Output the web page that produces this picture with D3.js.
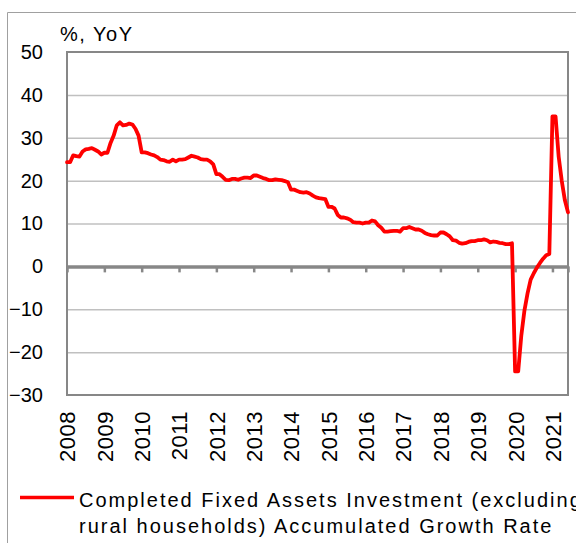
<!DOCTYPE html>
<html>
<head>
<meta charset="utf-8">
<script src="https://cdn.jsdelivr.net/npm/d3@7"></script>
<style>
  html, body { margin: 0; padding: 0; background: #fff; }
  svg { display: block; font-family: 'Liberation Sans', Arial, sans-serif; }
</style>
</head>
<body>
<div id="chart"></div>
<script>
// monthly accumulated YoY growth, Jan-Feb reported together (Jan repeats Feb)
const startYear = 2008;
const yearLabels = ['2008', '2009', '2010', '2011', '2012', '2013', '2014',
  '2015', '2016', '2017', '2018', '2019', '2020', '2021'];
const yTicks = [-30, -20, -10, 0, 10, 20, 30, 40, 50];
const fai2008 = [24.3, 24.3, 25.9, 25.7, 25.6, 26.8, 27.3, 27.4, 27.6, 27.2, 26.8, 26.1];
const fai2009 = [26.5, 26.5, 28.8, 30.5, 32.9, 33.6, 32.9, 33.0, 33.3, 33.1, 32.1, 30.5];
const fai2010 = [26.6, 26.6, 26.4, 26.1, 25.9, 25.5, 24.9, 24.8, 24.5, 24.4, 24.9, 24.5];
const fai2011 = [24.9, 24.9, 25.0, 25.4, 25.8, 25.6, 25.4, 25.0, 24.9, 24.9, 24.5, 23.8];
const fai2012 = [21.5, 21.5, 20.9, 20.2, 20.1, 20.4, 20.4, 20.2, 20.5, 20.7, 20.7, 20.6];
const fai2013 = [21.2, 21.2, 20.9, 20.6, 20.4, 20.1, 20.1, 20.3, 20.2, 20.1, 19.9, 19.6];
const fai2014 = [17.9, 17.9, 17.6, 17.3, 17.2, 17.3, 17.0, 16.5, 16.1, 15.9, 15.8, 15.7];
const fai2015 = [13.9, 13.9, 13.5, 12.0, 11.4, 11.4, 11.2, 10.9, 10.3, 10.2, 10.2, 10.0];
const fai2016 = [10.2, 10.2, 10.7, 10.5, 9.6, 9.0, 8.1, 8.1, 8.2, 8.3, 8.3, 8.1];
const fai2017 = [8.9, 8.9, 9.2, 8.9, 8.6, 8.6, 8.3, 7.8, 7.5, 7.3, 7.2, 7.2];
const fai2018 = [7.9, 7.9, 7.5, 7.0, 6.1, 6.0, 5.5, 5.3, 5.4, 5.7, 5.9, 5.9];
const fai2019 = [6.1, 6.1, 6.3, 6.1, 5.6, 5.8, 5.7, 5.5, 5.4, 5.2, 5.2, 5.4];
const fai2020 = [-24.5, -24.5, -16.1, -10.3, -6.3, -3.1, -1.6, -0.3, 0.8, 1.8, 2.6, 2.9];
const fai2021 = [35.0, 35.0, 25.6, 19.9, 15.4, 12.6];

const values = [].concat(fai2008, fai2009, fai2010, fai2011, fai2012, fai2013,
  fai2014, fai2015, fai2016, fai2017, fai2018, fai2019, fai2020, fai2021);

const width = 576;
const height = 543;
const margin = { top: 52, right: 8, bottom: 148, left: 67 };

const svg = d3.select('#chart').append('svg')
  .attr('width', width)
  .attr('height', height);

// outer frame (right and bottom edges fall outside the picture)
svg.append('path')
  .attr('d', `M7.5,${height} V12.5 H${width}`)
  .attr('fill', 'none')
  .attr('stroke', '#a0a0a0')
  .attr('stroke-width', 1);

const x = d3.scaleLinear()
  .domain([0, values.length - 1])
  .range([margin.left, width - margin.right]);
const y = d3.scaleLinear()
  .domain([-30, 50])
  .range([height - margin.bottom, margin.top]);

const yearIdx = yearLabels.map((_, i) => i * 12);

// gridlines
svg.append('g')
  .attr('transform', `translate(${margin.left},0)`)
  .call(d3.axisLeft(y)
    .tickValues(yTicks.filter(d => d !== 0 && d !== 50 && d !== -30))
    .tickSize(-(width - margin.right - margin.left))
    .tickFormat(''))
  .call(g => g.select('.domain').remove())
  .call(g => g.selectAll('line').attr('stroke', '#c0c0c0').attr('stroke-width', 1.5));

// y labels
svg.append('g')
  .attr('transform', `translate(${margin.left},0)`)
  .call(d3.axisLeft(y).tickValues(yTicks).tickSize(0).tickPadding(24))
  .call(g => g.select('.domain').remove())
  .call(g => g.selectAll('text')
    .attr('font-family', 'Liberation Sans, Arial, sans-serif')
    .attr('font-size', 20)
    .attr('fill', '#000'));

// plot border
svg.append('rect')
  .attr('x', margin.left)
  .attr('y', margin.top)
  .attr('width', width - margin.right - margin.left)
  .attr('height', height - margin.bottom - margin.top)
  .attr('fill', 'none')
  .attr('stroke', '#878787')
  .attr('stroke-width', 2);

// zero line with year ticks
svg.append('g')
  .attr('transform', `translate(0,${y(0)})`)
  .call(d3.axisBottom(x).tickValues(yearIdx.concat([values.length - 1]))
    .tickSize(6).tickSizeOuter(0).tickFormat(''))
  .call(g => g.select('.domain').attr('stroke', '#878787').attr('stroke-width', 3.5))
  .call(g => g.selectAll('line').attr('stroke', '#878787').attr('stroke-width', 2.5));

// year labels, rotated
svg.append('g')
  .attr('transform', `translate(0,${height - margin.bottom})`)
  .call(d3.axisBottom(x).tickValues(yearIdx).tickSize(0)
    .tickFormat((d, i) => yearLabels[i]))
  .call(g => g.select('.domain').remove())
  .call(g => g.selectAll('text')
    .attr('font-family', 'Liberation Sans, Arial, sans-serif')
    .attr('font-size', 22)
    .attr('letter-spacing', 0.5)
    .attr('fill', '#000')
    .attr('text-anchor', 'end')
    .attr('transform', 'rotate(-90)')
    .attr('x', -16)
    .attr('y', 0)
    .attr('dy', '0.36em'));

// series
const line = d3.line()
  .x((_, i) => x(i))
  .y(d => y(d))
  .curve(d3.curveLinear);

svg.append('path')
  .datum(values)
  .attr('fill', 'none')
  .attr('stroke', '#ff0000')
  .attr('stroke-width', 3.8)
  .attr('stroke-linejoin', 'round')
  .attr('stroke-linecap', 'round')
  .attr('d', line);

// unit label
svg.append('text')
  .attr('x', 60)
  .attr('y', 41)
  .attr('font-size', 20)
  .attr('letter-spacing', 1.5)
  .text('%, YoY');

// legend
const legend = svg.append('g');
legend.append('line')
  .attr('x1', 20).attr('x2', 74)
  .attr('y1', 497.5).attr('y2', 497.5)
  .attr('stroke', '#ff0000')
  .attr('stroke-width', 3.5);
legend.selectAll('text')
  .data(['Completed Fixed Assets Investment (excluding',
    'rural households) Accumulated Growth Rate'])
  .join('text')
  .attr('x', 79)
  .attr('y', (_, i) => 507 + i * 26)
  .attr('font-size', 20)
  .attr('letter-spacing', 2.0)
  .text(d => d);
</script>
</body>
</html>
